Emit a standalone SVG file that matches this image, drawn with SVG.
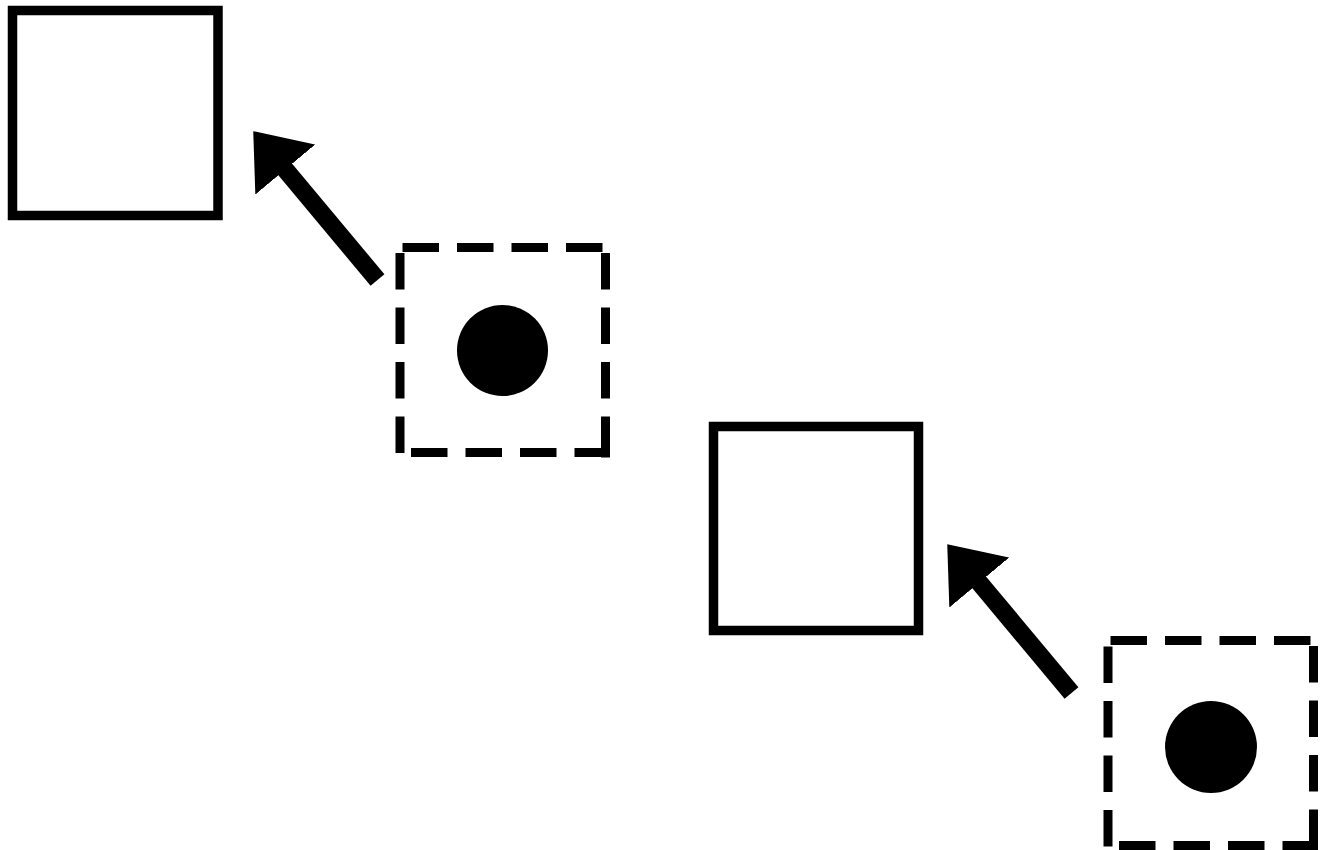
<svg xmlns="http://www.w3.org/2000/svg" width="1323" height="850" viewBox="0 0 1323 850">
<style>
.sq{fill:none;stroke:#000;stroke-width:9.5}
.dash{stroke:#000;stroke-width:9;fill:none;stroke-dasharray:36.5 18}
.dot{fill:#000}
.conn{stroke:#000;stroke-width:18;fill:none;marker-end:url(#ah)}
</style>
<defs>
<marker id="ah" markerUnits="userSpaceOnUse" viewBox="0 0 50 78" refX="2" refY="39" markerWidth="50" markerHeight="78" orient="auto">
<path d="M0,0 L50,39 L0,78 Z" fill="#000"/>
</marker>
</defs>
<rect width="1323" height="850" fill="#fff"/>
<g id="square1"><rect class="sq" x="12.5" y="10.5" width="205.5" height="205"/></g>
<g id="target1">
<line class="dash" x1="402.5" y1="247.5" x2="603" y2="247.5"/>
<line class="dash" x1="400" y1="253" x2="400" y2="454"/>
<line class="dash" x1="605.5" y1="253" x2="605.5" y2="457.5" style="stroke-dasharray:36.5 18 36.5 18 36.5 18 45 18"/>
<line class="dash" x1="411" y1="452.5" x2="610" y2="452.5" style="stroke-dasharray:36.5 18 36.5 18 36.5 18 36.5 18"/>
<circle class="dot" cx="502.5" cy="350.5" r="45.5"/>
</g>
<g id="square2"><rect class="sq" x="713.5" y="426.5" width="205" height="204"/></g>
<g id="target2">
<line class="dash" x1="1110.5" y1="640.5" x2="1311" y2="640.5"/>
<line class="dash" x1="1108" y1="646.5" x2="1108" y2="850"/>
<line class="dash" x1="1313.5" y1="646" x2="1313.5" y2="850"/>
<line class="dash" x1="1119" y1="845.5" x2="1318" y2="845.5"/>
<circle class="dot" cx="1211" cy="747" r="46"/>
</g>
<g id="connectors">
<line class="conn" x1="377.5" y1="280" x2="284" y2="168"/>
<line class="conn" x1="1071.5" y1="693" x2="978" y2="581"/>
</g>
</svg>
